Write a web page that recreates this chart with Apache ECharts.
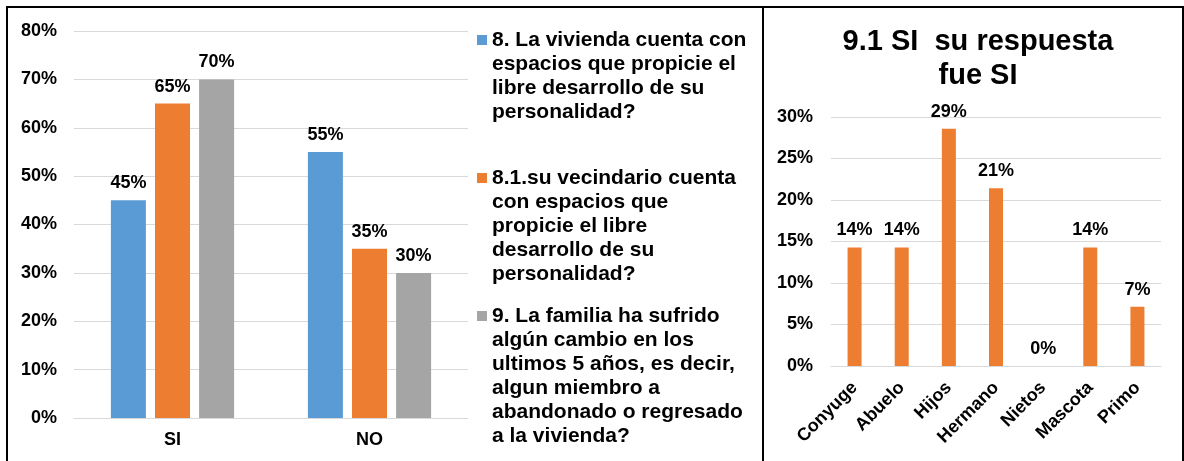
<!DOCTYPE html>
<html>
<head>
<meta charset="utf-8">
<script src="https://cdn.jsdelivr.net/npm/echarts@6/dist/echarts.min.js"></script>
<style>
  html, body { margin: 0; padding: 0; background: #fff; }
  #chart { width: 1184px; height: 461px; }
</style>
</head>
<body>
<div id="chart"></div>
<script>
// Left panel: answers SI / NO for three survey questions
const answerCats = ['SI', 'NO'];
const q8Values = [0.45, 0.55];
const q81Values = [0.65, 0.35];
const q9Values = [0.70, 0.30];

const q8Lines = ['8. La vivienda cuenta con', 'espacios que propicie el', 'libre desarrollo de su', 'personalidad?'];
const q81Lines = ['8.1.su vecindario cuenta', 'con espacios que', 'propicie el libre', 'desarrollo de su', 'personalidad?'];
const q9Lines = ['9. La familia ha sufrido', 'algún cambio en los', 'ultimos 5 años, es decir,', 'algun miembro a', 'abandonado o regresado', 'a la vivienda?'];

// Right panel: who left / returned, when the answer to 9 was SI
const memberCats = ['Conyuge', 'Abuelo', 'Hijos', 'Hermano', 'Nietos', 'Mascota', 'Primo'];
const memberShare = [0.1429, 0.1429, 0.2857, 0.2143, 0, 0.1429, 0.0714];

const leftTicks = { min: 0, max: 0.8, interval: 0.1 };
const rightTicks = { min: 0, max: 0.3, interval: 0.05 };

const BLUE = '#5b9bd5', ORANGE = '#ed7d31', GRAY = '#a5a5a5';
const FONT = '"Liberation Sans", Arial, sans-serif';
const pct = v => Math.round(v * 100) + '%';

const labelStyle = {
  show: true, position: 'top', distance: 8,
  color: '#000', fontWeight: 'bold', fontSize: 18, fontFamily: FONT,
  formatter: p => pct(p.value)
};
const axisText = { color: '#000', fontWeight: 'bold', fontSize: 18, fontFamily: FONT };
const gridLine = { show: true, lineStyle: { color: '#d9d9d9', width: 1 } };

// Legend entries: colour swatch + wrapped text, first line aligned with the swatch
const legendItems = [
  { color: BLUE, lines: q8Lines, y: 40 },
  { color: ORANGE, lines: q81Lines, y: 178 },
  { color: GRAY, lines: q9Lines, y: 316 }
];
const legendGraphics = [];
legendItems.forEach(it => {
  legendGraphics.push({
    type: 'rect', shape: { x: 477, y: it.y - 5, width: 10, height: 10 },
    style: { fill: it.color }
  });
  legendGraphics.push({
    type: 'text', x: 492, y: it.y - 12,
    style: {
      text: it.lines.join('\n'), fill: '#000',
      font: 'bold 21px ' + FONT, lineHeight: 24, verticalAlign: 'top', align: 'left'
    }
  });
});

// Outer frame and divider between the two panels
const frame = [
  { type: 'line', shape: { x1: 6, y1: 7, x2: 1184, y2: 7 }, style: { stroke: '#000', lineWidth: 2 } },
  { type: 'line', shape: { x1: 7, y1: 6, x2: 7, y2: 461 }, style: { stroke: '#000', lineWidth: 2 } },
  { type: 'line', shape: { x1: 763, y1: 6, x2: 763, y2: 461 }, style: { stroke: '#000', lineWidth: 2 } },
  { type: 'line', shape: { x1: 1183, y1: 6, x2: 1183, y2: 461 }, style: { stroke: '#000', lineWidth: 2 } }
];

const chart = echarts.init(document.getElementById('chart'), null, { renderer: 'canvas' });
chart.setOption({
  animation: false,
  backgroundColor: '#fff',
  title: {
    text: '9.1 SI  su respuesta\nfue SI',
    left: 973, top: 20, textAlign: 'center',
    textStyle: { color: '#000', fontWeight: 'bold', fontSize: 29, fontFamily: FONT, lineHeight: 34 }
  },
  grid: [
    { left: 74, top: 31, width: 394, height: 387 },
    { left: 831, top: 117, width: 330, height: 249 }
  ],
  xAxis: [
    {
      type: 'category', gridIndex: 0, data: answerCats,
      axisLine: { show: true, lineStyle: { color: '#d9d9d9' } },
      axisTick: { show: false },
      axisLabel: Object.assign({ margin: 13 }, axisText)
    },
    {
      type: 'category', gridIndex: 1, data: memberCats,
      axisLine: { show: true, lineStyle: { color: '#d9d9d9' } },
      axisTick: { show: false },
      axisLabel: Object.assign({ margin: 19, rotate: 45, interval: 0 }, axisText)
    }
  ],
  yAxis: [
    {
      type: 'value', gridIndex: 0, min: leftTicks.min, max: leftTicks.max, interval: leftTicks.interval,
      axisLine: { show: false }, axisTick: { show: false },
      splitLine: gridLine,
      axisLabel: Object.assign({ margin: 17, formatter: pct }, axisText)
    },
    {
      type: 'value', gridIndex: 1, min: rightTicks.min, max: rightTicks.max, interval: rightTicks.interval,
      axisLine: { show: false }, axisTick: { show: false },
      splitLine: gridLine,
      axisLabel: Object.assign({ margin: 18, formatter: pct }, axisText)
    }
  ],
  series: [
    { name: q8Lines.join(' '), type: 'bar', xAxisIndex: 0, yAxisIndex: 0, data: q8Values,
      barWidth: 35, barGap: '26%', itemStyle: { color: BLUE }, label: labelStyle },
    { name: q81Lines.join(' '), type: 'bar', xAxisIndex: 0, yAxisIndex: 0, data: q81Values,
      barWidth: 35, barGap: '26%', itemStyle: { color: ORANGE }, label: labelStyle },
    { name: q9Lines.join(' '), type: 'bar', xAxisIndex: 0, yAxisIndex: 0, data: q9Values,
      barWidth: 35, barGap: '26%', itemStyle: { color: GRAY }, label: labelStyle },
    { name: '9.1 SI su respuesta fue SI', type: 'bar', xAxisIndex: 1, yAxisIndex: 1, data: memberShare,
      barWidth: 14, itemStyle: { color: ORANGE }, label: labelStyle }
  ],
  graphic: frame.concat(legendGraphics)
});
</script>
</body>
</html>
